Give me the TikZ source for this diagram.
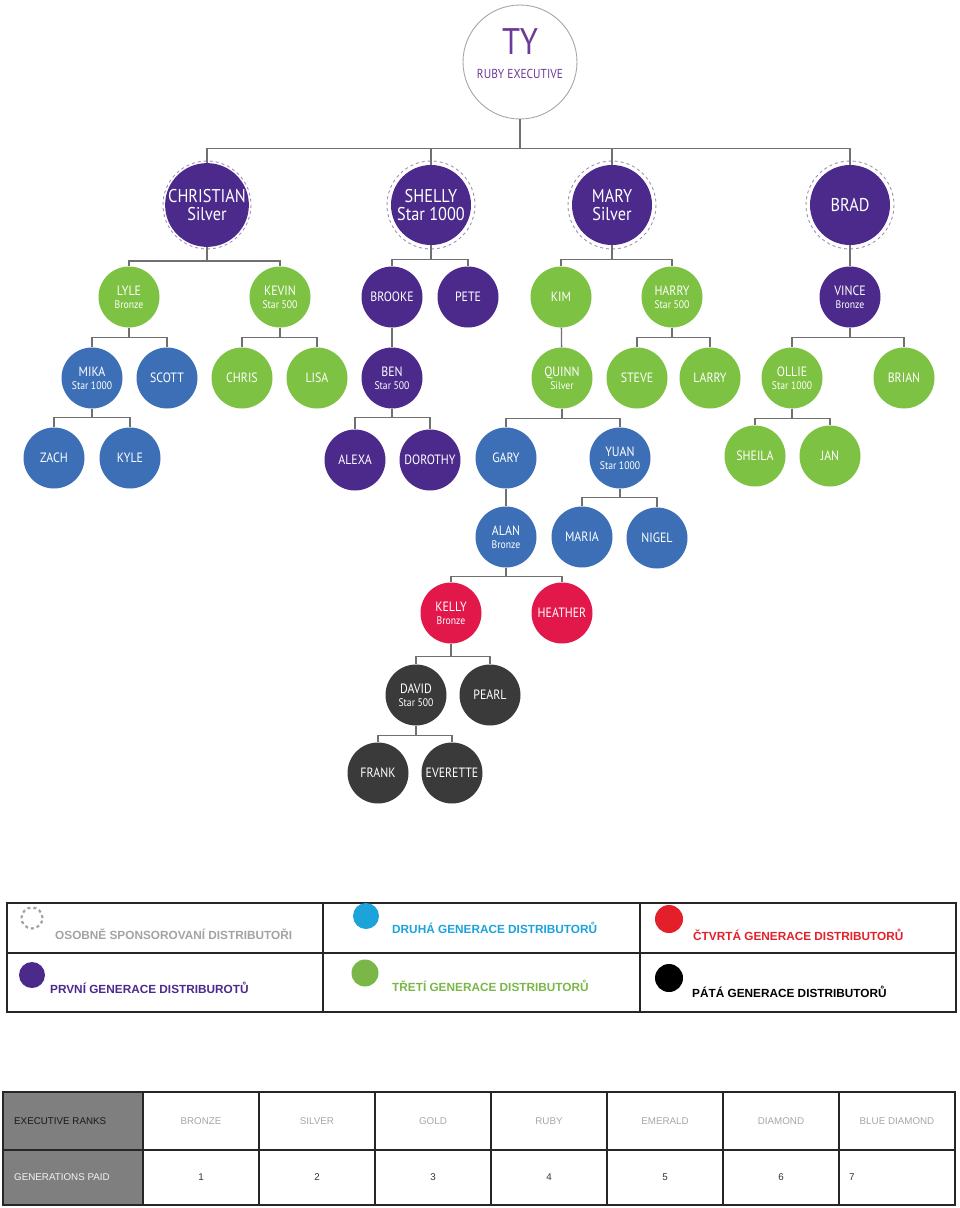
\documentclass[tikz,border=0pt]{standalone}
\usepackage{fontspec}
\setmainfont{Liberation Sans}
\newfontfamily\namefont[FakeStretch=0.88]{PT Sans}
\usetikzlibrary{positioning}
\definecolor{tyPurple}{HTML}{4B2A8C}
\definecolor{tyTitle}{HTML}{6C3A97}
\definecolor{tyGreen}{HTML}{7DC242}
\definecolor{tyBlue}{HTML}{3C6FB5}
\definecolor{tyRed}{HTML}{E2184B}
\definecolor{tyDark}{HTML}{3A3A3A}
\definecolor{tyLine}{HTML}{707070}
\definecolor{tyRing}{HTML}{9C8FB8}
\definecolor{legCyan}{HTML}{1BA3DA}
\definecolor{legGreen}{HTML}{7AB648}
\definecolor{legRed}{HTML}{E3202A}
\definecolor{legGray}{HTML}{A3A3A3}
\definecolor{rankGray}{HTML}{7F7F7F}
\newcommand{\tysub}[1]{{\fontsize{11}{12}\selectfont #1}}

\begin{document}
\begin{tikzpicture}[x=1pt, y=-1pt,
    founder/.style={circle, draw=gray!70, line width=0.9pt, minimum size=114pt, inner sep=0pt},
    firstgen/.style={circle, fill=tyPurple, minimum size=80pt, inner sep=0pt,
                     align=center, text=white, font=\namefont\fontsize{18.5}{18.5}\selectfont},
    member/.style={circle, minimum size=61pt, inner sep=0pt, align=center,
                   text=white, font=\namefont\fontsize{13.5}{13}\selectfont},
    lvlpurple/.style={member, fill=tyPurple},
    lvlgreen/.style={member, fill=tyGreen},
    lvlblue/.style={member, fill=tyBlue},
    lvlred/.style={member, fill=tyRed},
    lvldark/.style={member, fill=tyDark},
    link/.style={draw=tyLine, line width=1.3pt},
    ring/.style={draw=tyRing, dashed, line width=0.9pt},
    blob/.style={circle, inner sep=0pt},
    legtext/.style={anchor=base west, inner sep=0pt, font=\bfseries\fontsize{11.8}{12}\selectfont},
    grid/.style={draw=black!85, line width=1.1pt},
    ranktxt/.style={inner sep=0pt, font=\fontsize{9.8}{10}\selectfont}
  ]
  \useasboundingbox (0,0) rectangle (960,1208);

  % top of the tree
  \node[founder] (ty) at (520,62) {};
  \node[text=tyTitle, font=\namefont\fontsize{37}{37}\selectfont] (tyname) at (520,42) {TY};
  \node[text=tyTitle, font=\namefont\fontsize{13}{13}\selectfont] (tyrank) at (520,74) {RUBY EXECUTIVE};

  \node[firstgen] (christian) at (207,205) {CHRISTIAN\\Silver};
  \node[firstgen] (shelly)    at (431,205) {SHELLY\\Star 1000};
  \node[firstgen] (mary)      at (612,205) {MARY\\Silver};
  \node[firstgen] (brad)      at (850,205) {BRAD};
  \foreach \n in {christian,shelly,mary,brad}
    \draw[ring] (\n) circle (44);

  \node[lvlgreen]  (lyle)   at (129,297) {LYLE\\\tysub{Bronze}};
  \node[lvlgreen]  (kevin)  at (280,297) {KEVIN\\\tysub{Star 500}};
  \node[lvlpurple] (brooke) at (392,297) {BROOKE};
  \node[lvlpurple] (pete)   at (468,297) {PETE};
  \node[lvlgreen]  (kim)    at (561,297) {KIM};
  \node[lvlgreen]  (harry)  at (672,297) {HARRY\\\tysub{Star 500}};
  \node[lvlpurple] (vince)  at (850,297) {VINCE\\\tysub{Bronze}};

  \node[lvlblue]   (mika)   at (92,378)  {MIKA\\\tysub{Star 1000}};
  \node[lvlblue]   (scott)  at (167,378) {SCOTT};
  \node[lvlgreen]  (chris)  at (242,378) {CHRIS};
  \node[lvlgreen]  (lisa)   at (317,378) {LISA};
  \node[lvlpurple] (ben)    at (392,378) {BEN\\\tysub{Star 500}};
  \node[lvlgreen]  (quinn)  at (562,378) {QUINN\\\tysub{Silver}};
  \node[lvlgreen]  (steve)  at (637,378) {STEVE};
  \node[lvlgreen]  (larry)  at (710,378) {LARRY};
  \node[lvlgreen]  (ollie)  at (792,378) {OLLIE\\\tysub{Star 1000}};
  \node[lvlgreen]  (brian)  at (904,378) {BRIAN};

  \node[lvlblue]   (zach)    at (54,458)  {ZACH};
  \node[lvlblue]   (kyle)    at (130,458) {KYLE};
  \node[lvlpurple] (alexa)   at (355,460) {ALEXA};
  \node[lvlpurple] (dorothy) at (430,460) {DOROTHY};
  \node[lvlblue]   (gary)    at (506,458) {GARY};
  \node[lvlblue]   (yuan)    at (620,458) {YUAN\\\tysub{Star 1000}};
  \node[lvlgreen]  (sheila)  at (755,456) {SHEILA};
  \node[lvlgreen]  (jan)     at (830,456) {JAN};

  \node[lvlblue] (alan)  at (506,537) {ALAN\\\tysub{Bronze}};
  \node[lvlblue] (maria) at (582,537) {MARIA};
  \node[lvlblue] (nigel) at (657,538) {NIGEL};

  \node[lvlred] (kelly)   at (451,613) {KELLY\\\tysub{Bronze}};
  \node[lvlred] (heather) at (562,613) {HEATHER};

  \node[lvldark] (david)    at (416,695) {DAVID\\\tysub{Star 500}};
  \node[lvldark] (pearl)    at (490,695) {PEARL};
  \node[lvldark] (frank)    at (378,773) {FRANK};
  \node[lvldark] (everette) at (452,773) {EVERETTE};

  % connectors
  \foreach \c in {christian,shelly,mary,brad}
    \draw[link] (ty.south) -- ++(0,29) -| (\c.north);
  \draw[link] (christian.south) -- ++(0,14) -| (lyle.north);
  \draw[link] (christian.south) -- ++(0,14) -| (kevin.north);
  \draw[link] (shelly.south) -- ++(0,14) -| (brooke.north);
  \draw[link] (shelly.south) -- ++(0,14) -| (pete.north);
  \draw[link] (mary.south) -- ++(0,14) -| (kim.north);
  \draw[link] (mary.south) -- ++(0,14) -| (harry.north);
  \draw[link] (brad) -- (vince);

  \draw[link] (lyle.south) -- ++(0,10) -| (mika.north);
  \draw[link] (lyle.south) -- ++(0,10) -| (scott.north);
  \draw[link] (kevin.south) -- ++(0,10) -| (chris.north);
  \draw[link] (kevin.south) -- ++(0,10) -| (lisa.north);
  \draw[link] (brooke) -- (ben);
  \draw[link] (kim) -- (quinn);
  \draw[link] (harry.south) -- ++(0,10) -| (steve.north);
  \draw[link] (harry.south) -- ++(0,10) -| (larry.north);
  \draw[link] (vince.south) -- ++(0,10) -| (ollie.north);
  \draw[link] (vince.south) -- ++(0,10) -| (brian.north);

  \draw[link] (mika.south) -- ++(0,9) -| (zach.north);
  \draw[link] (mika.south) -- ++(0,9) -| (kyle.north);
  \draw[link] (ben.south) -- ++(0,9) -| (alexa.north);
  \draw[link] (ben.south) -- ++(0,9) -| (dorothy.north);
  \draw[link] (quinn.south) -- ++(0,10) -| (gary.north);
  \draw[link] (quinn.south) -- ++(0,10) -| (yuan.north);
  \draw[link] (ollie.south) -- ++(0,10) -| (sheila.north);
  \draw[link] (ollie.south) -- ++(0,10) -| (jan.north);

  \draw[link] (gary) -- (alan);
  \draw[link] (yuan.south) -- ++(0,9) -| (maria.north);
  \draw[link] (yuan.south) -- ++(0,9) -| (nigel.north);
  \draw[link] (alan.south) -- ++(0,9) -| (kelly.north);
  \draw[link] (alan.south) -- ++(0,9) -| (heather.north);
  \draw[link] (kelly.south) -- ++(0,13) -| (david.north);
  \draw[link] (kelly.south) -- ++(0,13) -| (pearl.north);
  \draw[link] (david.south) -- ++(0,10) -| (frank.north);
  \draw[link] (david.south) -- ++(0,10) -| (everette.north);

  % legend
  \draw[grid] (7,903) rectangle (956,1012);
  \draw[grid] (7,953) -- (956,953);
  \draw[grid] (323,903) -- (323,1012);
  \draw[grid] (640,903) -- (640,1012);

  \node[blob, draw=legGray, dashed, line width=2.2pt, minimum size=21pt] (icsponsor) at (32,918) {};
  \node[legtext, text=legGray] (txsponsor) at (55,939) {OSOBNĚ SPONSOROVANÍ DISTRIBUTOŘI};
  \node[blob, fill=legCyan, minimum size=26pt] (iccyan) at (366,916) {};
  \node[legtext, text=legCyan] (txcyan) at (392,933) {DRUHÁ GENERACE DISTRIBUTORŮ};
  \node[blob, fill=legRed, minimum size=28pt] (icred) at (669,919) {};
  \node[legtext, text=legRed] (txred) at (693,940) {ČTVRTÁ GENERACE DISTRIBUTORŮ};
  \node[blob, fill=tyPurple, minimum size=26pt] (icpurple) at (32,975) {};
  \node[legtext, text=tyPurple] (txpurple) at (50,993) {PRVNÍ GENERACE DISTRIBUROTŮ};
  \node[blob, fill=legGreen, minimum size=27pt] (icgreen) at (365,973) {};
  \node[legtext, text=legGreen] (txgreen) at (392,991) {TŘETÍ GENERACE DISTRIBUTORŮ};
  \node[blob, fill=black, minimum size=28pt] (icblack) at (669,978) {};
  \node[legtext, text=black] (txblack) at (692,997) {PÁTÁ GENERACE DISTRIBUTORŮ};

  % ranks table
  \fill[rankGray] (3,1092) rectangle (143,1205);
  \draw[grid] (3,1092) rectangle (955,1205);
  \draw[grid] (3,1150) -- (955,1150);
  \foreach \i in {0,...,6}
    \draw[grid] ({143+116*\i},1092) -- ({143+116*\i},1205);
  \node[ranktxt, anchor=west, text=black!90] (exranks) at (14,1121) {EXECUTIVE RANKS};
  \node[ranktxt, anchor=west, text=gray!10] (genpaid) at (14,1177) {GENERATIONS PAID};
  \foreach \r [count=\i] in {BRONZE,SILVER,GOLD,RUBY,EMERALD,DIAMOND,BLUE DIAMOND}
    \node[ranktxt, text=black!35] (rk\i) at ({85+116*\i},1121) {\r};
  \foreach \i in {1,...,6}
    \node[ranktxt, text=black!80] (gp\i) at ({85+116*\i},1177) {\i};
  \node[ranktxt, anchor=west, text=black!80] (gp7) at (849,1177) {7};
\end{tikzpicture}
\end{document}
